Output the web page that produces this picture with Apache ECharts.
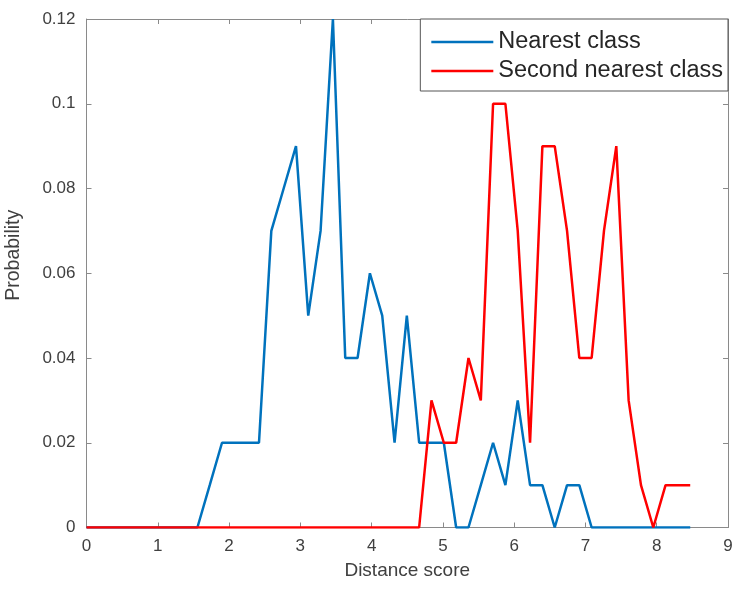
<!DOCTYPE html>
<html>
<head>
<meta charset="utf-8">
<script src="https://cdn.jsdelivr.net/npm/echarts@6/dist/echarts.min.js"></script>
<style>
  html, body { margin: 0; padding: 0; background: #fff; }
  #chart { width: 734px; height: 589px; }
</style>
</head>
<body>
<div id="chart"></div>
<script>
// Sample positions along the distance score axis
const distanceScores = [
  0.000, 0.173, 0.346, 0.519, 0.691, 0.864, 1.037, 1.210, 1.383, 1.556,
  1.729, 1.901, 2.074, 2.247, 2.420, 2.593, 2.766, 2.939, 3.111, 3.284,
  3.457, 3.630, 3.803, 3.976, 4.149, 4.322, 4.494, 4.667, 4.840, 5.013,
  5.186, 5.359, 5.532, 5.704, 5.877, 6.050, 6.223, 6.396, 6.569, 6.742,
  6.914, 7.087, 7.260, 7.433, 7.606, 7.779, 7.952, 8.124, 8.297, 8.470
];

// Probability of each distance score for the nearest class
const nearestClass = [
  0, 0, 0, 0, 0, 0, 0, 0, 0, 0,
  0.01, 0.02, 0.02, 0.02, 0.02, 0.07, 0.08, 0.09, 0.05, 0.07,
  0.12, 0.04, 0.04, 0.06, 0.05, 0.02, 0.05, 0.02, 0.02, 0.02,
  0, 0, 0.01, 0.02, 0.01, 0.03, 0.01, 0.01, 0, 0.01,
  0.01, 0, 0, 0, 0, 0, 0, 0, 0, 0
];

// Probability of each distance score for the second nearest class
const secondNearestClass = [
  0, 0, 0, 0, 0, 0, 0, 0, 0, 0,
  0, 0, 0, 0, 0, 0, 0, 0, 0, 0,
  0, 0, 0, 0, 0, 0, 0, 0, 0.03, 0.02,
  0.02, 0.04, 0.03, 0.10, 0.10, 0.07, 0.02, 0.09, 0.09, 0.07,
  0.04, 0.04, 0.07, 0.09, 0.03, 0.01, 0, 0.01, 0.01, 0.01
];

const seriesNames = ['Nearest class', 'Second nearest class'];

const toPairs = (ys) => distanceScores.map((x, i) => [x, ys[i]]);

const axisGray = '#8a8a8a';
const textGray = '#404040';
const font = 'Liberation Sans, Arial, Helvetica, sans-serif';

const xBase = {
  type: 'value', min: 0, max: 9, interval: 1,
  splitLine: { show: false },
  axisLine: { show: true, onZero: false, lineStyle: { color: axisGray, width: 1 } },
  axisTick: { show: true, inside: true, length: 5, lineStyle: { color: axisGray } }
};
const yBase = {
  type: 'value', min: 0, max: 0.12, interval: 0.02,
  splitLine: { show: false },
  axisLine: { show: true, onZero: false, lineStyle: { color: axisGray, width: 1 } },
  axisTick: { show: true, inside: true, length: 5, lineStyle: { color: axisGray } }
};

const chart = echarts.init(document.getElementById('chart'), null, { renderer: 'canvas' });

chart.setOption({
  animation: false,
  backgroundColor: '#ffffff',
  grid: { left: 86.5, right: 6, top: 19, bottom: 61.5, containLabel: false, outerBoundsMode: 'none' },
  xAxis: [
    Object.assign({}, xBase, {
      position: 'bottom',
      name: 'Distance score',
      nameLocation: 'middle',
      nameGap: 34,
      nameTextStyle: { fontFamily: font, fontSize: 19, color: textGray },
      axisLabel: { margin: 10, fontFamily: font, fontSize: 17, color: textGray }
    }),
    Object.assign({}, xBase, { position: 'top', axisLabel: { show: false } })
  ],
  yAxis: [
    Object.assign({}, yBase, {
      position: 'left',
      name: 'Probability',
      nameLocation: 'middle',
      nameGap: 63,
      // label sits a little above the middle of the axis
      nameTextStyle: { fontFamily: font, fontSize: 19.5, color: textGray, padding: [0, 0, 0, 36] },
      axisLabel: { margin: 11, fontFamily: font, fontSize: 17, color: textGray }
    }),
    Object.assign({}, yBase, { position: 'right', axisLabel: { show: false } })
  ],
  legend: {
    orient: 'vertical',
    right: 6,
    top: 19,
    padding: [11, 5, 8, 11],
    itemGap: 5,
    itemWidth: 62,
    itemHeight: 2.5,
    icon: 'rect',
    backgroundColor: '#ffffff',
    borderColor: '#555555',
    borderWidth: 1,
    textStyle: { fontFamily: font, fontSize: 23.5, color: '#262626' },
    data: seriesNames
  },
  series: [
    {
      name: seriesNames[0],
      type: 'line',
      data: toPairs(nearestClass),
      symbol: 'none',
      lineStyle: { color: '#0072BD', width: 2.5 },
      itemStyle: { color: '#0072BD' }
    },
    {
      name: seriesNames[1],
      type: 'line',
      data: toPairs(secondNearestClass),
      symbol: 'none',
      lineStyle: { color: '#FF0000', width: 2.5 },
      itemStyle: { color: '#FF0000' }
    }
  ]
});
</script>
</body>
</html>
